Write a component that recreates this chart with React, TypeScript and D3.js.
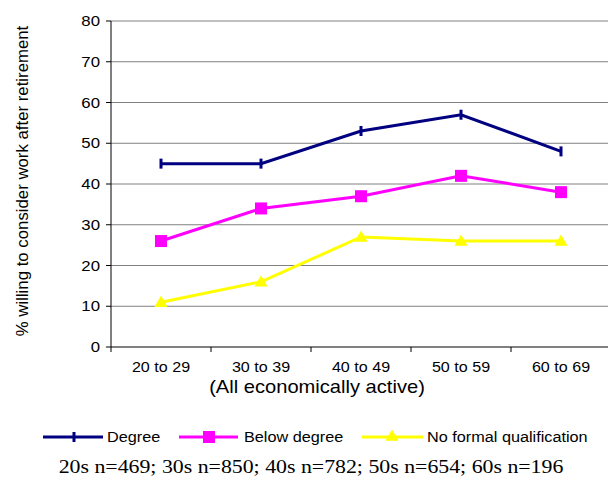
import React from "react";
import * as d3 from "d3";

const categories = ["20 to 29", "30 to 39", "40 to 49", "50 to 59", "60 to 69"];
const degree = [45, 45, 53, 57, 48];
const belowDegree = [26, 34, 37, 42, 38];
const noFormal = [11, 16, 27, 26, 26];
const yTicks = [0, 10, 20, 30, 40, 50, 60, 70, 80];
const seriesNames = ["Degree", "Below degree", "No formal qualification"];
const footnote = "20s n=469; 30s n=850; 40s n=782; 50s n=654; 60s n=196";

const W = 608, H = 479;
const left = 111, right = 611, top = 21, bottom = 347;
const font = "Arial, 'Liberation Sans', sans-serif";

function T(props: { x: number; y: number; sx?: number; size: number; anchor?: string; fam?: string; children: any }) {
  const { x, y, sx = 1.15, size, anchor = "start", fam = font, children } = props;
  return (
    <text transform={`translate(${x},${y}) scale(${sx},1)`} textAnchor={anchor} fontFamily={fam} fontSize={size} fill="#000">
      {children}
    </text>
  );
}

export default function App() {
  const x = d3.scaleBand<string>().domain(categories).range([left, right]);
  const y = d3.scaleLinear().domain([0, 80]).range([bottom, top]);
  const cx = (c: string) => (x(c) as number) + x.bandwidth() / 2;
  const line = d3.line<number>().x((_, i) => cx(categories[i])).y((d) => y(d));
  const tri = d3.symbol().type(d3.symbolTriangle).size(75)();

  const degMarker = (px: number, py: number, k: string) => (
    <line key={k} x1={px} x2={px} y1={py - 5} y2={py + 5} stroke="#000080" strokeWidth={3} />
  );
  const sqMarker = (px: number, py: number, k: string) => (
    <rect key={k} x={px - 6} y={py - 6} width={12} height={12} fill="#FF00FF" />
  );
  const triMarker = (px: number, py: number, k: string) => (
    <path key={k} d={tri as string} transform={`translate(${px},${py + 1})`} fill="#FFFF00" />
  );

  return (
    <svg width={W} height={H} style={{ position: "absolute", left: 0, top: 0, background: "#fff" }}>
      {yTicks.map((t) => (
        <g key={t}>
          {t > 0 && <line x1={left} x2={right} y1={y(t)} y2={y(t)} stroke="#808080" strokeWidth={1} />}
          <line x1={left - 5} x2={left} y1={y(t)} y2={y(t)} stroke="#000" />
          <T x={left - 11} y={y(t) + 5} size={14} sx={1.2} anchor="end">{t}</T>
        </g>
      ))}
      <line x1={left} x2={left} y1={top} y2={bottom} stroke="#000" />
      <line x1={left} x2={right} y1={bottom} y2={bottom} stroke="#000" />
      {categories.map((c) => (
        <g key={c}>
          <line x1={x(c) as number} x2={x(c) as number} y1={bottom} y2={bottom + 5} stroke="#000" />
          <T x={cx(c)} y={372} size={14} anchor="middle">{c}</T>
        </g>
      ))}
      <T x={317} y={393} size={17.5} anchor="middle">(All economically active)</T>
      <text transform={`translate(28,181) rotate(-90)`} textAnchor="middle" fontFamily={font} fontSize={16.8}>% willing to consider work after retirement</text>

      <path d={line(noFormal) as string} fill="none" stroke="#FFFF00" strokeWidth={3} />
      {noFormal.map((v, i) => triMarker(cx(categories[i]), y(v), "n" + i))}
      <path d={line(belowDegree) as string} fill="none" stroke="#FF00FF" strokeWidth={3} />
      {belowDegree.map((v, i) => sqMarker(cx(categories[i]), y(v), "b" + i))}
      <path d={line(degree) as string} fill="none" stroke="#000080" strokeWidth={3} />
      {degree.map((v, i) => degMarker(cx(categories[i]), y(v), "d" + i))}

      <g>
        <line x1={43} x2={103} y1={437} y2={437} stroke="#000080" strokeWidth={3} />
        {degMarker(74, 437, "ld")}
        <T x={107} y={442} size={14} sx={1.16}>{seriesNames[0]}</T>
        <line x1={179} x2={238} y1={437} y2={437} stroke="#FF00FF" strokeWidth={3} />
        {sqMarker(209, 437, "lb")}
        <T x={244} y={442} size={14} sx={1.16}>{seriesNames[1]}</T>
        <line x1={362} x2={423} y1={437} y2={437} stroke="#FFFF00" strokeWidth={3} />
        {triMarker(392, 436, "ln")}
        <T x={427} y={442} size={14} sx={1.16}>{seriesNames[2]}</T>
      </g>
      <T x={311} y={473} size={19.5} sx={1.12} anchor="middle" fam="'Liberation Serif', 'Times New Roman', serif">{footnote}</T>
    </svg>
  );
}
